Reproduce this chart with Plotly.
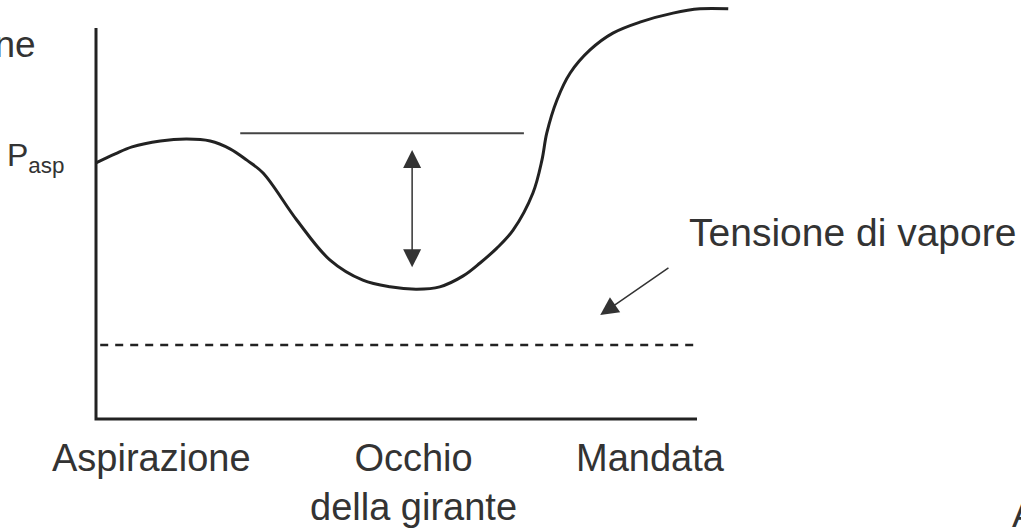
import plotly.graph_objects as go

# ---------------------------------------------------------------
# DATA  (position along the pump 0..10, pressure 0..10)
# ---------------------------------------------------------------

curve_x = [0.0, 0.32, 0.60, 1.07, 1.51, 1.90, 2.23, 2.51, 2.78, 3.34, 3.89, 4.44,
           4.89, 5.34, 5.72, 6.11, 6.39, 6.67, 6.94, 7.27, 7.42, 7.50, 7.67, 7.89,
           8.22, 8.60, 9.05, 9.60, 10.05, 10.52]
curve_y = [6.55, 6.78, 6.96, 7.11, 7.16, 7.11, 6.91, 6.62, 6.29, 5.09, 4.07, 3.55,
           3.38, 3.32, 3.38, 3.66, 3.99, 4.37, 4.83, 5.78, 6.62, 7.31, 8.16, 8.85,
           9.44, 9.87, 10.15, 10.38, 10.49, 10.49]

ref_level_x = [2.40, 7.12]
ref_level_y = [7.31, 7.31]

vapour_x = [0.07, 9.97]
vapour_y = [1.89, 1.89]

axis_x = [0, 0, 10]
axis_y = [10, 0, 0]

gap_x = 5.26
gap_top = 6.88
gap_bottom = 3.84

vap_arrow_tip = (8.39, 2.66)
vap_arrow_tail = (9.55, 3.89)

station_labels = ["Aspirazione", "Occhio<br>della girante", "Mandata"]
station_pos = [0.93, 5.29, 9.22]

# ---------------------------------------------------------------
# FIGURE
# ---------------------------------------------------------------

INK = "#222222"
TXT = "#333333"
FONT = "Liberation Sans, Arial, sans-serif"

fig = go.Figure()

fig.add_trace(go.Scatter(x=axis_x, y=axis_y, mode="lines",
                         line=dict(color=INK, width=3), hoverinfo="skip"))
fig.add_trace(go.Scatter(x=vapour_x, y=vapour_y, mode="lines",
                         line=dict(color=INK, width=2.5, dash="8px,7px"), hoverinfo="skip"))
fig.add_trace(go.Scatter(x=ref_level_x, y=ref_level_y, mode="lines",
                         line=dict(color="#444444", width=2), hoverinfo="skip"))
fig.add_trace(go.Scatter(x=curve_x, y=curve_y, mode="lines",
                         line=dict(color=INK, width=3, shape="spline", smoothing=1.0),
                         hoverinfo="skip"))

# double arrow (margin to vapour pressure)
fig.add_annotation(x=gap_x, y=gap_top, ax=gap_x, ay=gap_bottom,
                   xref="x", yref="y", axref="x", ayref="y", text="",
                   showarrow=True, arrowhead=2, arrowside="end+start",
                   arrowsize=2.4, arrowwidth=1.5, arrowcolor="#333333")

# arrow pointing at the vapour pressure line
fig.add_annotation(x=vap_arrow_tip[0], y=vap_arrow_tip[1],
                   ax=vap_arrow_tail[0], ay=vap_arrow_tail[1],
                   xref="x", yref="y", axref="x", ayref="y", text="",
                   showarrow=True, arrowhead=2, arrowsize=2.4, arrowwidth=1.5,
                   arrowcolor="#333333")

for lab, pos in zip(station_labels, station_pos):
    fig.add_annotation(x=pos, y=-0.40, text=lab, showarrow=False,
                       xanchor="center", yanchor="top", align="center",
                       font=dict(family=FONT, size=38, color=TXT))

fig.add_annotation(x=-0.965, y=9.59, text="Pressione", showarrow=False,
                   xanchor="right", yanchor="middle",
                   font=dict(family=FONT, size=37, color=TXT))
fig.add_annotation(x=-1.51, y=6.68, text="P<sub>asp</sub>", showarrow=False,
                   xanchor="left", yanchor="middle",
                   font=dict(family=FONT, size=32, color=TXT))
fig.add_annotation(x=9.83, y=4.76, text="Tensione di vapore", showarrow=False,
                   xanchor="left", yanchor="middle",
                   font=dict(family=FONT, size=39, color=TXT))
fig.add_annotation(x=15.21, y=-2.43, text="A", showarrow=False,
                   xanchor="left", yanchor="middle",
                   font=dict(family=FONT, size=37, color=TXT))

fig.update_xaxes(visible=False, range=[-1.5973, 15.3910])
fig.update_yaxes(visible=False, range=[-2.7877, 10.7161])
fig.update_layout(width=1021, height=528, margin=dict(l=0, r=0, t=0, b=0),
                  plot_bgcolor="white", paper_bgcolor="white", showlegend=False)

fig.write_html("out.html", config={"displayModeBar": False},
               post_script="document.body.style.margin='0px';")
